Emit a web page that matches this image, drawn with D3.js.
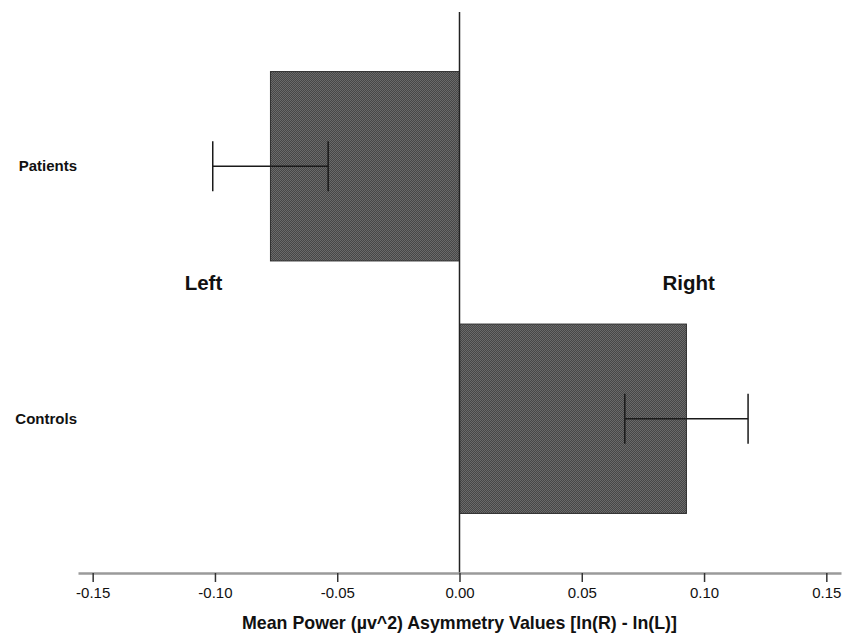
<!DOCTYPE html>
<html>
<head>
<meta charset="utf-8">
<script src="https://cdn.jsdelivr.net/npm/d3@7"></script>
<style>
  body { margin: 0; background: #fff; }
  text { font-family: Arial, "Liberation Sans", sans-serif; }
</style>
</head>
<body>
<div id="chart"></div>
<script>
var svgWidth = 851;
var svgHeight = 637;

// data
var groups = ["Patients", "Controls"];
var means = [-0.0773, 0.0928];
var errors = [0.0236, 0.0252];
var xTicks = [-0.15, -0.10, -0.05, 0.00, 0.05, 0.10, 0.15];
var sideLabels = ["Left", "Right"];
var sideX = [-0.1047, 0.0937];

var xScale = d3.scaleLinear()
    .domain([-0.156, 0.156])
    .range([78, 841]);

var yScale = d3.scaleBand()
    .domain(groups)
    .range([40, 545])
    .paddingInner(0.25)
    .paddingOuter(0.125);

// plain hyphen for negative ticks
var fmt = d3.formatLocale({decimal: ".", thousands: ",", grouping: [3], currency: ["", ""], minus: "-"}).format(".2f");

var svg = d3.select("#chart")
    .append("svg")
    .attr("width", svgWidth)
    .attr("height", svgHeight);

// checker fill like the original hatch
var pat = svg.append("defs").append("pattern")
    .attr("id", "checker")
    .attr("width", 2)
    .attr("height", 2)
    .attr("patternUnits", "userSpaceOnUse");
pat.append("rect").attr("width", 2).attr("height", 2).attr("fill", "#474747");
pat.append("rect").attr("width", 1).attr("height", 1).attr("fill", "#6a6a6a");
pat.append("rect").attr("x", 1).attr("y", 1).attr("width", 1).attr("height", 1).attr("fill", "#6a6a6a");

var axisY = 573;

// bars
svg.selectAll(".bar")
    .data(groups)
    .enter()
    .append("rect")
    .attr("class", "bar")
    .attr("x", (d, i) => xScale(Math.min(0, means[i])))
    .attr("y", d => yScale(d))
    .attr("width", (d, i) => Math.abs(xScale(means[i]) - xScale(0)))
    .attr("height", yScale.bandwidth())
    .attr("fill", "url(#checker)")
    .attr("stroke", "#2e2e2e")
    .attr("stroke-width", 1);

// zero line
svg.append("line")
    .attr("x1", xScale(0)).attr("x2", xScale(0))
    .attr("y1", 12).attr("y2", axisY)
    .attr("stroke", "#222")
    .attr("stroke-width", 1.5);

// error bars
var errG = svg.selectAll(".err")
    .data(groups)
    .enter()
    .append("g")
    .attr("class", "err")
    .attr("stroke", "#1a1a1a")
    .attr("stroke-width", 1.5);

errG.append("line")
    .attr("x1", (d, i) => xScale(means[i] - errors[i]))
    .attr("x2", (d, i) => xScale(means[i] + errors[i]))
    .attr("y1", d => yScale(d) + yScale.bandwidth() / 2)
    .attr("y2", d => yScale(d) + yScale.bandwidth() / 2);

[-1, 1].forEach(s => {
    errG.append("line")
        .attr("x1", (d, i) => xScale(means[i] + s * errors[i]))
        .attr("x2", (d, i) => xScale(means[i] + s * errors[i]))
        .attr("y1", d => yScale(d) + yScale.bandwidth() / 2 - 25)
        .attr("y2", d => yScale(d) + yScale.bandwidth() / 2 + 25);
});

// x axis
var bottomAxis = d3.axisBottom(xScale)
    .tickValues(xTicks)
    .tickFormat(fmt)
    .tickSize(9)
    .tickSizeOuter(0);

var axisG = svg.append("g")
    .attr("transform", `translate(0, ${axisY})`)
    .attr("font-size", 15)
    .call(bottomAxis);

axisG.select(".domain")
    .attr("stroke", "#9a9a9a")
    .attr("stroke-width", 2.5);
axisG.selectAll(".tick line")
    .attr("stroke", "#333")
    .attr("stroke-width", 1.5);
axisG.selectAll(".tick text")
    .style("font-size", "15px")
    .attr("fill", "#111")
    .attr("y", 11)
    .attr("dy", "0.95em");

svg.append("text")
    .attr("x", xScale(0))
    .attr("y", 629)
    .attr("text-anchor", "middle")
    .attr("font-size", "17.8px")
    .attr("font-weight", "bold")
    .attr("fill", "#111")
    .text("Mean Power (\u00b5v^2) Asymmetry Values [ln(R) - ln(L)]");

// category labels
svg.selectAll(".cat")
    .data(groups)
    .enter()
    .append("text")
    .attr("class", "cat")
    .attr("x", 77)
    .attr("y", d => yScale(d) + yScale.bandwidth() / 2 + 5)
    .attr("text-anchor", "end")
    .attr("font-size", "15px")
    .attr("font-weight", "bold")
    .attr("fill", "#111")
    .text(d => d);

// Left / Right annotations
svg.selectAll(".side")
    .data(sideLabels)
    .enter()
    .append("text")
    .attr("class", "side")
    .attr("x", (d, i) => xScale(sideX[i]))
    .attr("y", 290)
    .attr("text-anchor", "middle")
    .attr("font-size", "20.5px")
    .attr("font-weight", "bold")
    .attr("fill", "#111")
    .text(d => d);
</script>
</body>
</html>
